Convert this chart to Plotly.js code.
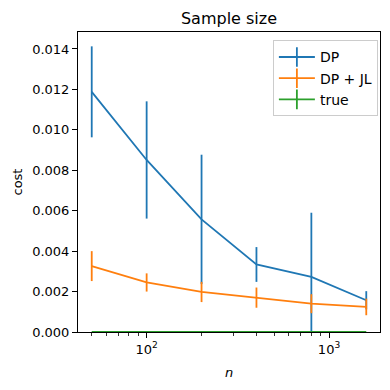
<!DOCTYPE html>
<html><head><meta charset="utf-8">
<script src="https://cdn.plot.ly/plotly-3.0.1.min.js"></script>
<style>body{margin:0;padding:0;background:#fff}#chart{width:390px;height:390px}</style>
</head><body><div id="chart"></div>
<script>
const sampleSizes = [50, 100, 200, 400, 800, 1600];
const dpCost = [0.01188, 0.00851, 0.00557, 0.00334, 0.00273, 0.00157];
const dpErr = [0.00225, 0.0029, 0.0032, 0.00086, 0.00317, 0.00045];
const dpjlCost = [0.00326, 0.00245, 0.00198, 0.0017, 0.0014, 0.00124];
const dpjlErr = [0.00074, 0.00045, 0.0005, 0.0005, 0.00047, 0.00041];
const trueCost = [0, 0, 0, 0, 0, 0];
const trueErr = [0, 0, 0, 0, 0, 0];
const seriesNames = ['DP', 'DP + JL', 'true'];
const colors = ['#1f77b4', '#ff7f0e', '#2ca02c'];
const yTicks = [0, 0.002, 0.004, 0.006, 0.008, 0.010, 0.012, 0.014];
const xTickVals = [100, 1000];
const xTickText = ['10<sup>2</sup>', '10<sup>3</sup>'];
const minorTicks = [50,60,70,80,90,200,300,400,500,600,700,800,900,2000];

const ys = [dpCost, dpjlCost, trueCost];
const es = [dpErr, dpjlErr, trueErr];
const traces = [];
ys.forEach((y, i) => {
  traces.push({
    x: sampleSizes, y: y, type: 'scatter', mode: 'lines',
    line: {color: colors[i], width: 1.8},
    error_y: {type: 'data', array: es[i], visible: true, color: colors[i], thickness: 1.8, width: 0},
    showlegend: false, hoverinfo: 'skip'
  });
});
seriesNames.forEach((n, i) => {
  traces.push({
    x: [null], y: [null], type: 'scatter', mode: 'lines+markers', name: n,
    line: {color: colors[i], width: 1.8},
    marker: {symbol: 'line-ns-open', size: 14, color: colors[i], line: {color: colors[i], width: 1.8}}
  });
});

const lx0 = Math.log10(sampleSizes[0]), lx1 = Math.log10(sampleSizes[sampleSizes.length-1]);
const span = lx1 - lx0;
const font = {family: 'DejaVu Sans', size: 13, color: '#000'};
const layout = {
  width: 390, height: 390,
  margin: {l: 78, r: 10, t: 32, b: 58},
  paper_bgcolor: '#fff', plot_bgcolor: '#fff',
  font: font,
  title: {text: 'Sample size', font: {family: 'DejaVu Sans', size: 16, color: '#000'}, x: 0.5, xref: 'paper', xanchor: 'center', y: 1, yref: 'container', yanchor: 'top', pad: {t: 13}},
  xaxis: {
    type: 'log', range: [lx0 - 0.05*span, lx1 + 0.05*span],
    tickmode: 'array', tickvals: xTickVals, ticktext: xTickText,
    ticks: 'outside', ticklen: 5, tickwidth: 1, tickcolor: '#000',
    minor: {tickmode: 'array', tickvals: minorTicks, ticks: 'outside', ticklen: 3, tickwidth: 0.8, tickcolor: '#000', showgrid: false},
    showgrid: false, zeroline: false, showline: true, mirror: true, linecolor: '#000', linewidth: 1,
    title: {text: '<i>n</i>', font: font, standoff: 12},
    tickfont: font
  },
  yaxis: {
    range: [0, 0.01484], tickmode: 'array', tickvals: yTicks, tickformat: '.3f',
    ticks: 'outside', ticklen: 5, tickwidth: 1, tickcolor: '#000',
    showgrid: false, zeroline: false, showline: true, mirror: true, linecolor: '#000', linewidth: 1,
    title: {text: 'cost', font: font, standoff: 6},
    tickfont: font
  },
  legend: {
    x: 0.993, xanchor: 'right', y: 0.972, yanchor: 'top',
    bgcolor: 'rgba(255,255,255,0.8)', bordercolor: '#cccccc', borderwidth: 1,
    font: {family: 'DejaVu Sans', size: 14, color: '#000'}, tracegroupgap: 0, itemwidth: 36
  }
};
Plotly.newPlot('chart', traces, layout, {staticPlot: true, displayModeBar: false});
</script>
</body></html>
